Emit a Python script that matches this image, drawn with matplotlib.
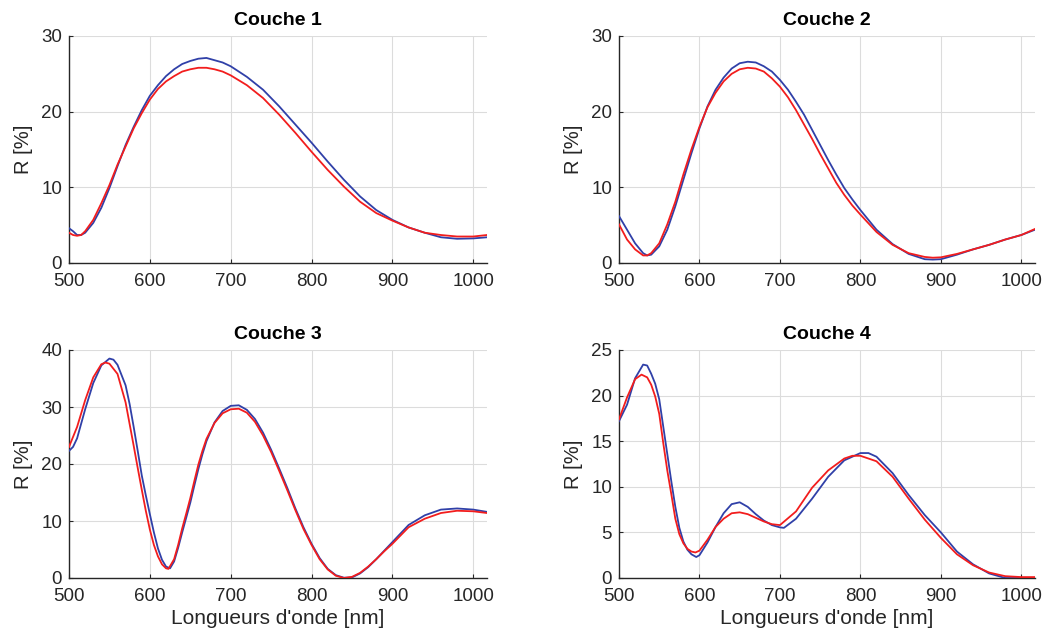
import matplotlib
matplotlib.use("Agg")
import matplotlib.pyplot as plt

# ---------------- data ----------------
titles = ["Couche 1", "Couche 2", "Couche 3", "Couche 4"]
x_label = "Longueurs d'onde [nm]"
y_label = "R [%]"
x_ticks = [500, 600, 700, 800, 900, 1000]
y_ticks_list = [[0, 10, 20, 30], [0, 10, 20, 30], [0, 10, 20, 30, 40], [0, 5, 10, 15, 20, 25]]
y_lims = [(0, 30), (0, 30), (0, 40), (0, 25)]

# Couche 1
c1_wl = [500, 505, 510, 515, 520, 530, 540, 550, 560, 570, 580, 590, 600, 610, 620, 630, 640,
         650, 660, 670, 680, 690, 700, 720, 740, 760, 780, 800, 820, 840, 860, 880, 900, 920,
         940, 960, 980, 1000, 1017]
c1_blue = [4.6, 4.2, 3.7, 3.7, 4.0, 5.3, 7.3, 9.9, 12.8, 15.6, 18.0, 20.2, 22.1, 23.5, 24.7, 25.6,
           26.3, 26.7, 27.0, 27.1, 26.8, 26.5, 26.0, 24.6, 22.9, 20.7, 18.3, 15.9, 13.4, 11.0, 8.8,
           7.0, 5.7, 4.7, 4.0, 3.4, 3.2, 3.25, 3.4]
c1_red = [4.0, 3.7, 3.6, 3.7, 4.2, 5.7, 7.9, 10.3, 13.0, 15.4, 17.8, 19.8, 21.6, 23.0, 24.0, 24.7,
          25.3, 25.6, 25.8, 25.8, 25.6, 25.3, 24.8, 23.5, 21.8, 19.6, 17.2, 14.7, 12.3, 10.1, 8.1,
          6.6, 5.6, 4.7, 4.0, 3.7, 3.5, 3.5, 3.7]

# Couche 2
c2_wl = [500, 510, 520, 530, 535, 540, 550, 560, 570, 580, 590, 600, 610, 620, 630, 640, 650, 660,
         670, 680, 690, 700, 710, 720, 730, 740, 750, 760, 770, 780, 790, 800, 820, 840, 860, 880,
         890, 900, 920, 940, 960, 980, 1000, 1017]
c2_blue = [6.2, 4.4, 2.6, 1.3, 1.0, 1.1, 2.2, 4.4, 7.5, 11.0, 14.5, 17.8, 20.7, 22.9, 24.5, 25.7,
           26.4, 26.6, 26.5, 26.0, 25.3, 24.2, 22.9, 21.3, 19.6, 17.6, 15.6, 13.6, 11.7, 9.9, 8.4,
           7.0, 4.4, 2.5, 1.2, 0.5, 0.45, 0.5, 1.1, 1.8, 2.4, 3.1, 3.7, 4.4]
c2_red = [5.1, 3.1, 1.8, 1.0, 1.0, 1.3, 2.6, 5.1, 8.1, 11.7, 15.0, 18.0, 20.6, 22.5, 24.0, 25.0,
          25.6, 25.8, 25.7, 25.3, 24.4, 23.3, 21.9, 20.2, 18.3, 16.4, 14.4, 12.5, 10.6, 9.0, 7.6,
          6.4, 4.1, 2.4, 1.3, 0.8, 0.7, 0.75, 1.2, 1.8, 2.4, 3.1, 3.7, 4.5]

# Couche 3
c3_wl_blue = [500, 505, 510, 520, 530, 540, 550, 555, 560, 570, 575, 580, 585, 590, 595, 600, 605,
              610, 615, 620, 625, 630, 635, 640, 645, 650, 655, 660, 665, 670, 680, 690, 700, 710,
              720, 730, 740, 750, 760, 770, 780, 790, 800, 810, 820, 830, 840, 850, 860, 870, 880,
              890, 900, 920, 940, 960, 980, 1000, 1017]
c3_blue = [22.3, 23.0, 24.5, 29.6, 34.2, 37.3, 38.5, 38.3, 37.4, 33.8, 30.5, 26.5, 22.3, 18.0,
           14.5, 11.2, 8.0, 5.2, 3.2, 2.0, 1.7, 2.9, 5.3, 8.0, 10.6, 13.2, 16.2, 19.1, 21.7, 24.0,
           27.3, 29.3, 30.2, 30.3, 29.5, 27.9, 25.5, 22.5, 19.2, 15.8, 12.2, 8.9, 6.0, 3.5, 1.6,
           0.5, 0.05, 0.1, 0.8, 1.9, 3.3, 4.8, 6.3, 9.3, 11.0, 12.0, 12.2, 12.0, 11.6]
c3_wl_red = [500, 510, 520, 530, 540, 545, 550, 560, 570, 575, 580, 585, 590, 595, 600, 605, 610,
             615, 620, 623, 630, 635, 640, 645, 650, 655, 660, 665, 670, 680, 690, 700, 710, 720,
             730, 740, 750, 760, 770, 780, 790, 800, 810, 820, 830, 840, 850, 860, 870, 880, 890,
             900, 920, 940, 960, 980, 1000, 1017]
c3_red = [23.0, 26.5, 31.2, 35.2, 37.5, 37.8, 37.6, 35.8, 30.8, 27.0, 23.2, 19.3, 15.5, 11.8, 8.5,
          5.8, 3.8, 2.4, 1.7, 1.6, 3.3, 5.8, 8.7, 11.3, 14.0, 17.0, 19.9, 22.3, 24.4, 27.2, 28.9,
          29.6, 29.7, 29.0, 27.4, 25.0, 22.1, 18.8, 15.4, 11.9, 8.6, 5.8, 3.3, 1.5, 0.4, 0.0, 0.2,
          0.9, 2.0, 3.3, 4.7, 6.0, 8.9, 10.4, 11.4, 11.8, 11.7, 11.4]

# Couche 4
c4_wl_blue = [500, 510, 520, 530, 535, 540, 545, 550, 555, 560, 565, 570, 575, 580, 585, 590, 596,
              600, 610, 620, 630, 640, 650, 660, 670, 680, 690, 700, 705, 720, 740, 760, 780, 800,
              810, 820, 840, 860, 880, 900, 920, 940, 960, 980, 1000, 1017]
c4_blue = [17.2, 19.0, 21.9, 23.4, 23.3, 22.4, 21.3, 19.6, 16.6, 13.6, 10.6, 7.8, 5.5, 4.0, 3.1,
           2.6, 2.3, 2.5, 3.9, 5.6, 7.1, 8.1, 8.3, 7.8, 7.0, 6.3, 5.8, 5.55, 5.5, 6.5, 8.7, 11.1,
           12.9, 13.7, 13.7, 13.3, 11.5, 9.1, 6.9, 5.0, 2.9, 1.5, 0.5, 0.0, 0.0, 0.0]
c4_wl_red = [500, 510, 520, 528, 535, 540, 545, 550, 555, 560, 565, 570, 575, 580, 585, 590, 595,
             600, 610, 620, 630, 640, 650, 660, 670, 680, 690, 700, 720, 740, 760, 780, 790, 800,
             820, 840, 860, 880, 900, 920, 940, 960, 980, 1000, 1017]
c4_red = [17.4, 19.8, 21.8, 22.3, 22.0, 21.2, 19.9, 18.0, 14.8, 11.8, 9.2, 6.5, 4.8, 3.8, 3.2,
          2.9, 2.8, 3.0, 4.2, 5.6, 6.5, 7.1, 7.2, 7.0, 6.6, 6.2, 5.9, 5.8, 7.3, 9.9, 11.8, 13.1,
          13.4, 13.4, 12.8, 11.1, 8.7, 6.4, 4.4, 2.6, 1.4, 0.6, 0.2, 0.1, 0.1]

series = [
    (c1_wl, c1_blue, c1_wl, c1_red),
    (c2_wl, c2_blue, c2_wl, c2_red),
    (c3_wl_blue, c3_blue, c3_wl_red, c3_red),
    (c4_wl_blue, c4_blue, c4_wl_red, c4_red),
]

# ---------------- style ----------------
plt.rcParams['font.family'] = ['Liberation Sans', 'DejaVu Sans']
BLUE = '#3040a8'
RED = '#f21d1d'
AX = '#262626'

fig = plt.figure(figsize=(10.43, 6.39), dpi=100)
W, H = 1043, 639
boxes = [(69, 36, 487, 263), (619, 36, 1035, 263), (69, 350, 487, 578), (619, 350, 1035, 578)]

for i, (x0, y0, x1, y1) in enumerate(boxes):
    ax = fig.add_axes([x0 / W, 1 - y1 / H, (x1 - x0) / W, (y1 - y0) / H])
    wb, vb, wr, vr = series[i]
    ax.plot(wb, vb, color=BLUE, lw=1.3, zorder=3, solid_joinstyle='round')
    ax.plot(wr, vr, color=RED, lw=1.3, zorder=4, solid_joinstyle='round')
    ax.set_xlim(500, 1017)
    ax.set_ylim(*y_lims[i])
    ax.set_xticks(x_ticks)
    ax.set_yticks(y_ticks_list[i])
    ax.grid(True, color='#dcdcdc', lw=0.8)
    ax.set_axisbelow(True)
    for s in ['top', 'right']:
        ax.spines[s].set_visible(False)
    for s in ['left', 'bottom']:
        ax.spines[s].set_color(AX)
        ax.spines[s].set_linewidth(1.0)
    ax.tick_params(direction='in', length=3, width=0.8, colors=AX, labelsize=13.5)
    ax.tick_params(axis='x', pad=7)
    ax.tick_params(axis='y', pad=5)
    ax.set_title(titles[i], fontsize=14, fontweight='bold', color='black', pad=8)
    ax.set_ylabel(y_label, fontsize=14.5, color=AX, labelpad=6)
    if i >= 2:
        ax.set_xlabel(x_label, fontsize=15, color=AX, labelpad=3)

fig.savefig('out.png', dpi=100, facecolor='white')
